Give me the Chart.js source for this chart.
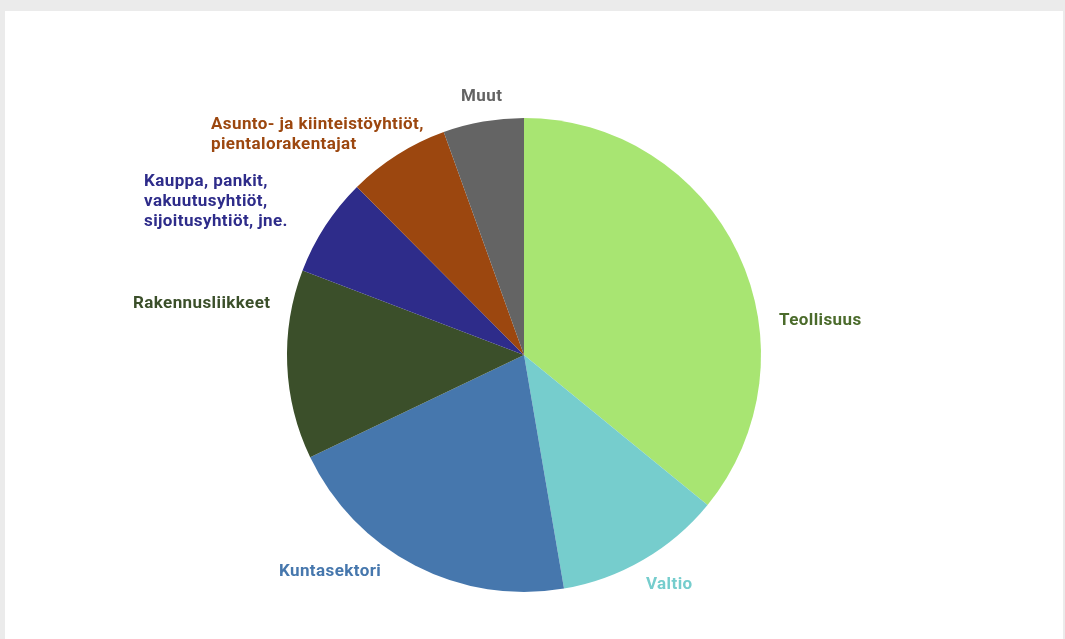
<!DOCTYPE html>
<html>
<head>
<meta charset="utf-8">
<script src="https://cdn.jsdelivr.net/npm/chart.js@4"></script>
<style>
  html, body { margin: 0; padding: 0; background: #ebebeb; }
  #card { position: absolute; left: 5px; top: 11px; width: 1058px; height: 628px; background: #fff; }
  #pie { display: block; }
</style>
</head>
<body>
<div id="card"><canvas id="pie" width="1058" height="628"></canvas></div>
<script>
// ----------------data-------------------------
const sectors = ['Teollisuus', 'Valtio', 'Kuntasektori', 'Rakennusliikkeet',
  'Kauppa, pankit, vakuutusyhtiöt, sijoitusyhtiöt, jne.',
  'Asunto- ja kiinteistöyhtiöt, pientalorakentajat', 'Muut'];
const shares = [35.9, 11.4, 20.6, 12.9, 6.75, 6.95, 5.5];
const sliceColors = ['#a8e572', '#76cdcd', '#4677ad', '#3b4f2a', '#2e2c8a', '#9c470f', '#646464'];
const labelColors = ['#4b6b2b', '#76cdcd', '#4677ad', '#3b4f2a', '#2e2c8a', '#9c470f', '#646464'];
const labelLines = [
  ['Teollisuus'],
  ['Valtio'],
  ['Kuntasektori'],
  ['Rakennusliikkeet'],
  ['Kauppa, pankit,', 'vakuutusyhtiöt,', 'sijoitusyhtiöt, jne.'],
  ['Asunto- ja kiinteistöyhtiöt,', 'pientalorakentajat'],
  ['Muut']
];

// label placement, offset from pie centre (px at radius 237), left edge of text block
const labelOffsets = [[255, -34], [122, 230], [-245, 217], [-391, -51], [-380, -173], [-313, -230], [-63, -258]];

// ----------------label plugin-------------------------
const outsideLabels = {
  id: 'outsideLabels',
  afterDatasetsDraw(chart) {
    const ctx = chart.ctx;
    const arc = chart.getDatasetMeta(0).data[0];
    const k = arc.outerRadius / 237;
    ctx.save();
    ctx.font = 'bold 17px Roboto, "DejaVu Sans Condensed", sans-serif';
    ctx.letterSpacing = '0.4px';
    ctx.textAlign = 'left';
    ctx.textBaseline = 'middle';
    labelLines.forEach((lines, i) => {
      ctx.fillStyle = labelColors[i];
      const x = arc.x + labelOffsets[i][0] * k;
      const y = arc.y + labelOffsets[i][1] * k;
      lines.forEach((line, j) => ctx.fillText(line, x, y + j * 20));
    });
    ctx.restore();
  }
};

const pieChart = new Chart(document.getElementById('pie').getContext('2d'), {
  type: 'pie',
  data: {
    labels: sectors,
    datasets: [{
      data: shares,
      backgroundColor: sliceColors,
      borderWidth: 0
    }]
  },
  options: {
    responsive: false,
    animation: false,
    layout: { padding: { top: 107, bottom: 47, left: 282, right: 302 } },
    plugins: {
      legend: { display: false },
      tooltip: { enabled: false }
    }
  },
  plugins: [outsideLabels]
});
</script>
</body>
</html>
